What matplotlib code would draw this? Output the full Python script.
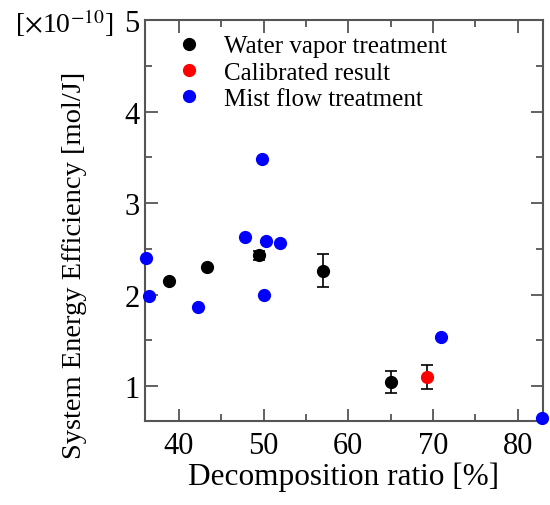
import matplotlib
matplotlib.use("Agg")
import matplotlib.pyplot as plt
from matplotlib.ticker import MultipleLocator

plt.rcParams['font.family'] = ['Liberation Serif', 'DejaVu Serif']
plt.rcParams['mathtext.fontset'] = 'stix'

# water vapor treatment (with error bars)
vapor_x = [38.8, 43.3, 49.5, 57.0, 65.0]
vapor_y = [2.15, 2.30, 2.43, 2.26, 1.05]
vapor_err = [0.0, 0.0, 0.05, 0.18, 0.12]

# calibrated result
calib_x = [69.3]
calib_y = [1.10]
calib_err = [0.13]

# mist flow treatment
mist_x = [36.1, 36.5, 42.3, 50.1, 47.8, 50.3, 52.0, 49.8, 71.0, 82.9]
mist_y = [2.40, 1.99, 1.86, 2.00, 2.63, 2.59, 2.56, 3.48, 1.54, 0.65]

fig = plt.figure(figsize=(5.5, 5.06), dpi=100)
ax = fig.add_axes([0.2636, 0.166, 0.7237, 0.7925])

ax.errorbar(vapor_x, vapor_y, yerr=vapor_err, fmt='none', ecolor='black',
            capsize=4, elinewidth=1.2, capthick=1.2, zorder=2)
ax.errorbar(calib_x, calib_y, yerr=calib_err, fmt='none', ecolor='black',
            capsize=4, elinewidth=1.2, capthick=1.2, zorder=2)
ax.plot(vapor_x, vapor_y, 'o', color='black', ms=8.5, label='Water vapor treatment', zorder=3)
ax.plot(calib_x, calib_y, 'o', color='red', ms=8.5, label='Calibrated result', zorder=3)
ax.plot(mist_x, mist_y, 'o', color='blue', ms=8.5, label='Mist flow treatment',
        clip_on=False, zorder=4)

ax.set_xlim(36, 83)
ax.set_ylim(0.62, 5)
ax.xaxis.set_major_locator(MultipleLocator(10))
ax.xaxis.set_minor_locator(MultipleLocator(5))
ax.yaxis.set_major_locator(MultipleLocator(1))
ax.yaxis.set_minor_locator(MultipleLocator(0.5))
ax.tick_params(which='both', direction='in', top=True, right=True,
               color='#555555', width=1.3, labelsize=22)
ax.tick_params(axis='x', pad=7)
ax.tick_params(axis='y', pad=4)
ax.tick_params(which='major', length=9)
ax.tick_params(which='minor', length=5)
for s in ax.spines.values():
    s.set_color('#555555')
    s.set_linewidth(1.5)

ax.set_xlabel('Decomposition ratio [%]', fontsize=22.5, labelpad=1)
ax.set_ylabel('System Energy Efficiency [mol/J]', fontsize=20.5, va='center')
ax.yaxis.set_label_coords(-0.176, 0.39)
fig.text(0.027, 0.955, r'[$\times$10$^{-10}$]', fontsize=20, va='center')

ax.legend(loc='upper left', bbox_to_anchor=(0.03, 1.0), frameon=False,
          fontsize=18, handletextpad=0.7, borderaxespad=0.3,
          labelspacing=0.15, handlelength=1.4, borderpad=0.3)

fig.savefig('out.png', dpi=100)
